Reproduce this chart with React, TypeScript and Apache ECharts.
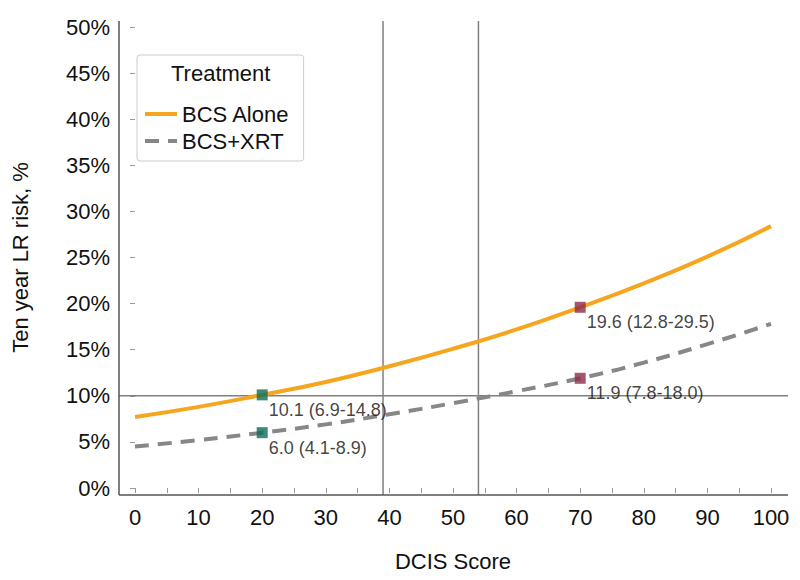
import React, { useEffect, useRef } from "react";
import * as echarts from "echarts";

const scores = [0, 10, 20, 30, 40, 50, 60, 70, 80, 90, 100];
const bcsAlone = [7.7, 8.8, 10.1, 11.5, 13.2, 15.1, 17.2, 19.6, 22.2, 25.1, 28.4];
const bcsXrt = [4.5, 5.2, 6.0, 6.9, 8.0, 9.2, 10.5, 11.9, 13.6, 15.6, 17.8];

const markerScores = [20, 70];
const markerColors = ["#0f6b57", "#8e2b47"];
const alonePoints = [10.1, 19.6];
const aloneLow = [6.9, 12.8];
const aloneHigh = [14.8, 29.5];
const xrtPoints = [6.0, 11.9];
const xrtLow = [4.1, 7.8];
const xrtHigh = [8.9, 18.0];

const refScores = [39, 54];
const refRisk = 10;

const FONT = "'Liberation Sans', Arial, sans-serif";
const ORANGE = "#f6a51f";
const GRAY = "#878787";

export default function App() {
  const ref = useRef<HTMLDivElement>(null);
  useEffect(() => {
    if (!ref.current) return;
    const chart = echarts.init(ref.current, undefined, { renderer: "svg" });
    const fmt = (v: number) => v.toFixed(1);
    const pts = (vals: number[], lo: number[], hi: number[]) =>
      markerScores.map((s, i) => ({
        value: [s, vals[i]],
        itemStyle: { color: markerColors[i] },
        label: { formatter: `${fmt(vals[i])} (${fmt(lo[i])}-${fmt(hi[i])})` },
      }));
    const frameLeft = 119;
    const frameRight = 788;
    const frameTop = 21;
    const frameBottom = 495;
    chart.setOption({
      animation: false,
      grid: { left: 135, right: 29, top: 27, bottom: 92 },
      xAxis: {
        type: "value",
        min: 0,
        max: 100,
        interval: 10,
        offset: 7,
        name: "DCIS Score",
        nameLocation: "middle",
        nameGap: 55,
        nameTextStyle: { fontFamily: FONT, fontSize: 22, color: "#111" },
        axisLine: { show: false },
        axisTick: { show: true, length: 5, lineStyle: { color: "#999" } },
        minorTick: { show: true, splitNumber: 2, length: 5, lineStyle: { color: "#999" } },
        axisLabel: { fontFamily: FONT, fontSize: 22, color: "#111", margin: 11 },
        splitLine: { show: false },
      },
      yAxis: {
        type: "value",
        min: 0,
        max: 50,
        interval: 5,
        offset: 16,
        name: "Ten year LR risk, %",
        nameLocation: "middle",
        nameGap: 88,
        nameTextStyle: { fontFamily: FONT, fontSize: 22, color: "#111" },
        axisLine: { show: false },
        axisTick: { show: true, length: 5, lineStyle: { color: "#999" } },
        axisLabel: { fontFamily: FONT, fontSize: 22, color: "#111", margin: 9, formatter: "{value}%" },
        splitLine: { show: false },
      },
      legend: {
        orient: "vertical",
        left: 137,
        top: 55,
        data: ["BCS Alone", "BCS+XRT"],
        padding: [47, 14, 8, 6],
        itemGap: 3,
        itemWidth: 32,
        itemHeight: 14,
        borderColor: "#cccccc",
        borderWidth: 1,
        borderRadius: 3,
        itemStyle: { opacity: 0 },
        lineStyle: { width: 4 },
        textStyle: { fontFamily: FONT, fontSize: 22, color: "#111", lineHeight: 24 },
      },
      series: [
        {
          name: "BCS Alone",
          type: "line",
          data: scores.map((s, i) => [s, bcsAlone[i]]),
          smooth: true,
          symbol: "none",
          lineStyle: { color: ORANGE, width: 4 },
          itemStyle: { color: ORANGE },
          z: 3,
        },
        {
          name: "BCS+XRT",
          type: "line",
          data: scores.map((s, i) => [s, bcsXrt[i]]),
          smooth: true,
          symbol: "none",
          lineStyle: { color: GRAY, width: 4, type: [14, 9] },
          itemStyle: { color: GRAY },
          z: 3,
        },
        {
          name: "markers",
          type: "scatter",
          symbol: "rect",
          symbolSize: 11,
          z: 6,
          data: [...pts(alonePoints, aloneLow, aloneHigh), ...pts(xrtPoints, xrtLow, xrtHigh)],
          label: {
            show: true,
            position: "right",
            distance: 5,
            offset: [-4, 15],
            fontFamily: FONT,
            fontSize: 18,
            color: "#111",
          },
        },
      ],
    });
    const refLine = (x1: number, y1: number, x2: number, y2: number) => ({
      type: "line",
      shape: { x1, y1, x2, y2 },
      style: { stroke: "#7f7f7f", lineWidth: 1.5 },
      z: 1,
    });
    const vLines = refScores.map((s) => {
      const p = chart.convertToPixel({ gridIndex: 0 }, [s, 0]) as number[];
      return refLine(p[0], frameTop, p[0], frameBottom);
    });
    const hp = chart.convertToPixel({ gridIndex: 0 }, [0, refRisk]) as number[];
    chart.setOption({
      graphic: [
        ...vLines,
        refLine(frameLeft, hp[1], frameRight, hp[1]),
        { type: "line", shape: { x1: frameLeft, y1: frameTop, x2: frameLeft, y2: frameBottom }, style: { stroke: "#555", lineWidth: 1.5 }, z: 5 },
        { type: "line", shape: { x1: frameLeft, y1: frameBottom, x2: frameRight, y2: frameBottom }, style: { stroke: "#555", lineWidth: 1.5 }, z: 5 },
        {
          type: "text",
          left: 171,
          top: 62,
          style: { text: "Treatment", font: `22px ${FONT}`, fill: "#111" },
          z: 10,
        },
      ],
    });
    return () => chart.dispose();
  }, []);
  return <div ref={ref} style={{ position: "absolute", left: 0, top: 0, width: 800, height: 580 }} />;
}
